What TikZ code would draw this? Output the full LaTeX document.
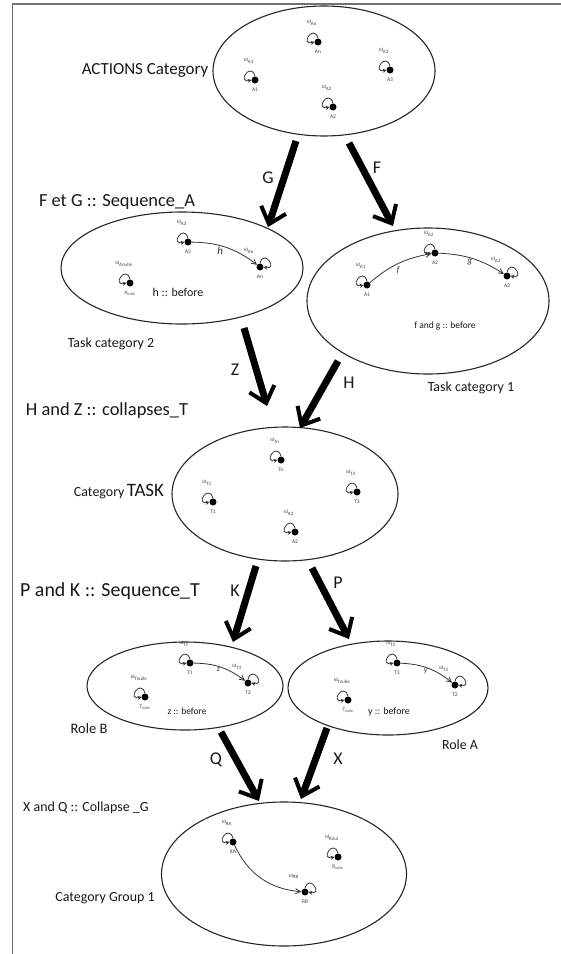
\documentclass[tikz,border=0pt]{standalone}
\usepackage{fontspec}
\setmainfont{Carlito}
\usetikzlibrary{shapes.geometric,arrows.meta}
\newcommand{\fs}[1]{\fontsize{#1}{#1}\selectfont}
\newcommand{\objL}[5]{%
  \node[dotn] (#1) at (#2,-#3) {};
  \node[nlab] (#1n) at (#2,-#3-10) {#4};
  \node[idlab] (#1i) at (#2-6,-#3+19) {#5};
  \draw[looparr] (#1.north) .. controls +(105:16) and +(195:16) .. (#1.west);
}
\newcommand{\objR}[5]{%
  \node[dotn] (#1) at (#2,-#3) {};
  \node[nlab] (#1n) at (#2,-#3-10) {#4};
  \node[idlab] (#1i) at (#2-11,-#3+16) {#5};
  \draw[looparr] (#1.north) .. controls +(75:16) and +(-15:16) .. (#1.east);
}
\tikzset{
  cat/.style={draw=black!85, line width=1.1bp, ellipse, inner sep=0pt},
  big/.style={line width=7bp, -{Straight Barb[length=15bp, width=26bp, line width'=4bp]}},
  biglab/.style={font=\fs{18}, text=black!90, inner sep=0pt},
  lab/.style={text=black!90, inner sep=0pt},
  dotn/.style={circle, fill=black, inner sep=0pt, minimum size=7bp},
  nlab/.style={font=\fs{5.5}, text=black!75, inner sep=0pt},
  idlab/.style={font=\fs{5}, text=black!75, inner sep=0pt},
  looparr/.style={draw=black!80, line width=0.8bp, -{Straight Barb[length=2.5bp, width=3bp]}},
  thinarr/.style={draw=black!80, line width=0.8bp, -{Straight Barb[length=5bp, width=5bp]}},
  elab/.style={font=\fs{9}\itshape, text=black!80, inner sep=1pt},
}
\begin{document}
\begin{tikzpicture}[x=1bp,y=1bp]
\useasboundingbox (0,0) rectangle (561,-954);
\fill[white] (0,0) rectangle (561,-954);
% frame
\draw[black!55, line width=2bp] (12,-4) -- (561,-4);
\draw[black!60, line width=1.3bp] (12.5,-4) -- (12.5,-954);

% categories
\node[cat, minimum width=222bp, minimum height=130bp] (act) at (324,-71) {};
\node[cat, minimum width=242bp, minimum height=112bp] (t2) at (182,-268) {};
\node[cat, minimum width=242bp, minimum height=146bp] (t1) at (428,-301) {};
\node[cat, minimum width=226bp, minimum height=134bp] (task) at (285,-494) {};
\node[cat, minimum width=196bp, minimum height=88bp] (rb) at (185,-686) {};
\node[cat, minimum width=200bp, minimum height=94bp] (ra) at (388,-688) {};
\node[cat, minimum width=245bp, minimum height=144bp] (grp) at (284,-874) {};

% labels
\node[lab, font=\fs{17}] (tact) at (145,-70) {ACTIONS Category};
\node[lab, font=\fs{18.5}] (tfg) at (117,-202) {F et G :: Sequence\_A};
\node[lab, font=\fs{14}] (tt2) at (111,-344) {Task category 2};
\node[lab, font=\fs{14}] (tt1) at (471,-388) {Task category 1};
\node[lab, font=\fs{18.5}] (thz) at (107,-411) {H and Z :: collapses\_T};
\node[lab] (ttask) at (119,-492) {{\fs{14}Category} {\fs{19}TASK}};
\node[lab, font=\fs{20}] (tpk) at (110,-591) {P and K :: Sequence\_T};
\node[lab, font=\fs{14.5}] (trb) at (89,-729) {Role B};
\node[lab, font=\fs{14}] (tra) at (460,-745) {Role A};
\node[lab, font=\fs{14}] (txq) at (86,-808) {X and Q :: Collapse \_G};
\node[lab, font=\fs{14}] (tgrp) at (105,-898) {Category Group 1};

% inner captions
\node[lab, font=\fs{12}] (hb) at (178,-292) {h :: before};
\node[lab, font=\fs{9.5}] (fgb) at (445,-326) {f and g :: before};
\node[lab, font=\fs{9.5}] (zb) at (187,-711) {z :: before};
\node[lab, font=\fs{10}] (yb) at (389,-712) {y :: before};

% objects: ACTIONS
\objL{aAn}{318}{42}{An}{Id\textsubscript{An}}
\objL{aA1}{255}{80}{A1}{Id\textsubscript{A1}}
\objL{aA3}{390}{70}{A3}{Id\textsubscript{A3}}
\objL{aA2}{333}{107}{A2}{Id\textsubscript{A2}}
% Task category 2
\objL{bAnul}{130}{283}{A\textsubscript{nulle}}{Id\textsubscript{Anulle}}
\objL{bA3}{188}{242}{A3}{Id\textsubscript{A3}}
\objR{bAn}{260}{267}{An}{Id\textsubscript{An}}
% Task category 1
\objL{cA1}{367}{285}{A1}{Id\textsubscript{A1}}
\objL{cA2}{435}{253}{A2}{Id\textsubscript{A2}}
\objR{cA3}{507}{276}{A3}{Id\textsubscript{A3}}
% Category TASK
\objL{dTn}{281}{460}{Tn}{Id\textsubscript{Tn}}
\objL{dT1}{213}{502}{T1}{Id\textsubscript{T1}}
\objL{dT3}{357}{492}{T3}{Id\textsubscript{T3}}
\objL{dA2}{295}{532}{A2}{Id\textsubscript{A2}}
% Role B
\objL{eTnul}{145}{697}{T\textsubscript{nulle}}{Id\textsubscript{Tnulle}}
\objL{eT1}{190}{663}{T1}{Id\textsubscript{T1}}
\objR{eT3}{248}{683}{T3}{Id\textsubscript{T3}}
% Role A
\objL{fTnul}{348}{700}{T\textsubscript{nulle}}{Id\textsubscript{Tnulle}}
\objL{fT3}{397}{663}{T3}{Id\textsubscript{T3}}
\objR{fT2}{455}{685}{T2}{Id\textsubscript{T2}}
% Group
\objL{gRA}{233}{842}{RA}{Id\textsubscript{RA}}
\objR{gRB}{305}{892}{RB}{Id\textsubscript{RB}}
\objL{gRnul}{338}{857}{R\textsubscript{nulle}}{Id\textsubscript{Rnul}}

% morphisms
\draw[thinarr] (bA3) to[bend left=18] node[elab, font=\fs{11}\itshape, pos=0.4, below] {h} (bAn);
\draw[thinarr] (cA1) to[bend left=15] node[elab, pos=0.45, below right] {f} (cA2);
\draw[thinarr] (cA2) to[bend left=15] node[elab, pos=0.45, below] {g} (cA3);
\draw[thinarr] (eT1) to[bend left=18] node[elab, font=\fs{8}\itshape, pos=0.45, below] {z} (eT3);
\draw[thinarr] (fT3) to[bend left=18] node[elab, font=\fs{8}\itshape, pos=0.45, below] {y} (fT2);
\draw[thinarr] (gRA) to[bend right=30] (gRB);

% functors (big arrows)
\coordinate (g0) at (296,-141); \coordinate (g1) at (268,-227);
\coordinate (f0) at (349,-143); \coordinate (f1) at (393,-226);
\coordinate (z0) at (244,-328); \coordinate (z1) at (267,-406);
\coordinate (h0) at (338,-361); \coordinate (h1) at (300,-428);
\coordinate (k0) at (256,-566); \coordinate (k1) at (233,-642);
\coordinate (p0) at (312,-568); \coordinate (p1) at (349,-639);
\coordinate (q0) at (221,-732); \coordinate (q1) at (259,-801);
\coordinate (x0) at (327,-728); \coordinate (x1) at (301,-799);
\draw[big] (g0) -- (g1);
\draw[big] (f0) -- (f1);
\draw[big] (z0) -- (z1);
\draw[big] (h0) -- (h1);
\draw[big] (k0) -- (k1);
\draw[big] (p0) -- (p1);
\draw[big] (q0) -- (q1);
\draw[big] (x0) -- (x1);
\node[biglab] (lG) at (268,-178) {G};
\node[biglab] (lF) at (377,-168) {F};
\node[biglab] (lZ) at (235,-370) {Z};
\node[biglab] (lH) at (349,-383) {H};
\node[biglab] (lK) at (235,-591) {K};
\node[biglab] (lP) at (338,-583) {P};
\node[biglab] (lQ) at (216,-760) {Q};
\node[biglab] (lX) at (338,-759) {X};
\end{tikzpicture}
\end{document}
